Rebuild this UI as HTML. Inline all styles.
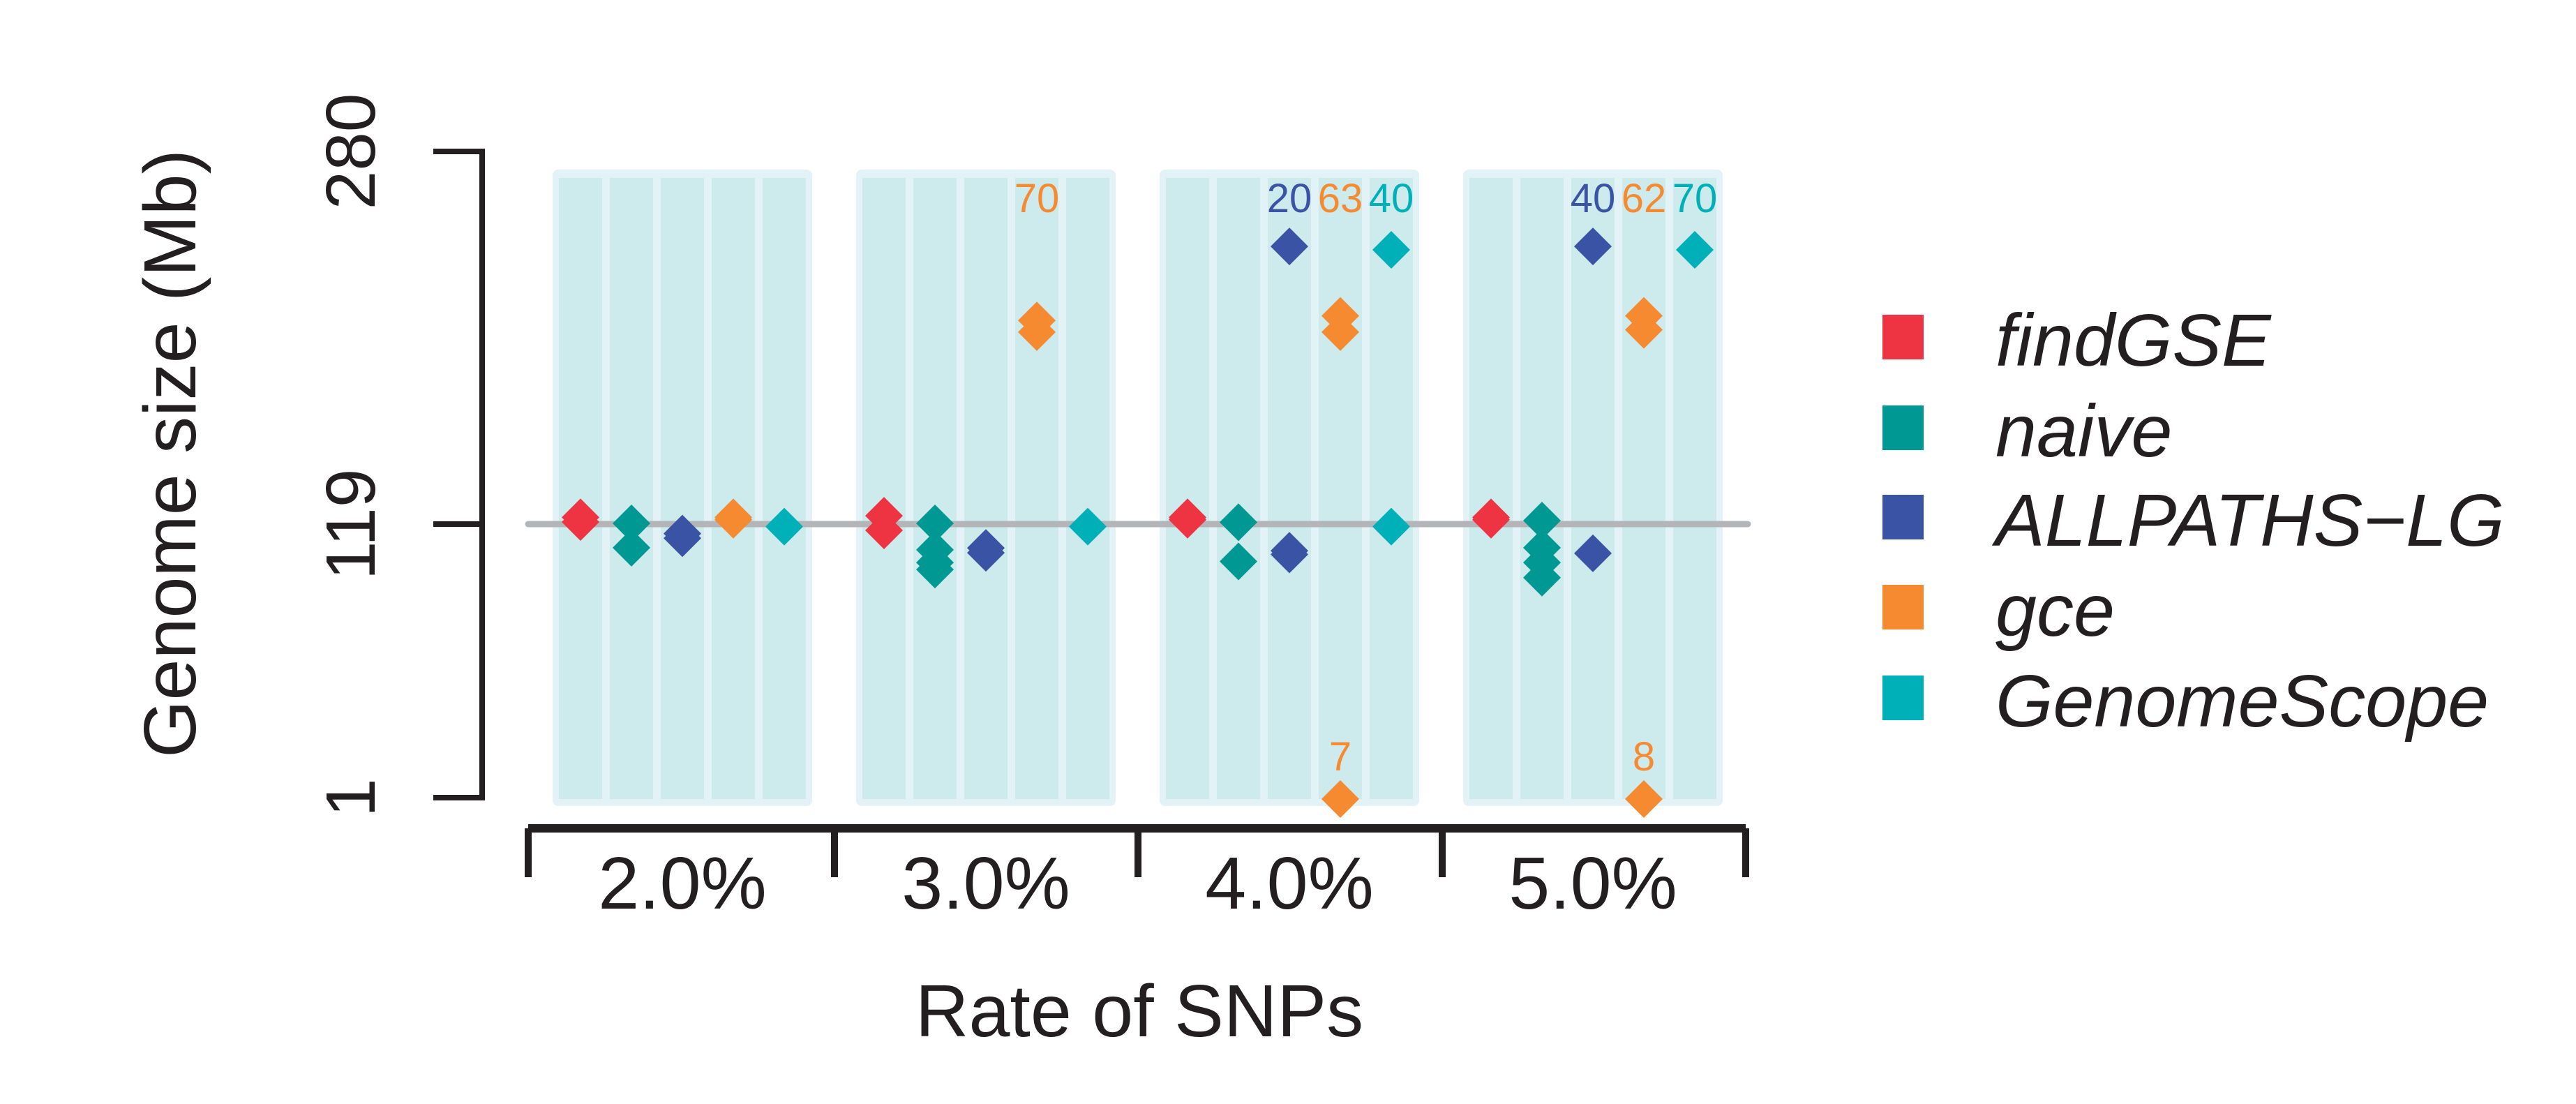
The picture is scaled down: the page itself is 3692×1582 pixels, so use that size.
<!DOCTYPE html>
<html><head><meta charset="utf-8"><style>
html,body{margin:0;padding:0;background:#fff;width:3692px;height:1582px;overflow:hidden}
svg{display:block;font-family:"Liberation Sans",Arial,sans-serif}
</style></head><body>
<svg id="chart" width="3692" height="1582" viewBox="0 0 3692 1582">
<g id="panels"></g>
<line x1="757" y1="751" x2="2505" y2="751" stroke="#b3b5b8" stroke-width="9" stroke-linecap="round"/>
<g id="points"></g>
<g id="labels"></g>
<g id="yaxis" stroke="#231f20" stroke-width="8" fill="none">
<path d="M621 217 H691 V1143 H621 M621 751 H691"/>
</g>
<g id="yticks" font-size="100" fill="#231f20"></g>
<text transform="translate(280,650) rotate(-90)" text-anchor="middle" font-size="106" fill="#231f20">Genome size (Mb)</text>
<g id="xaxis"></g>
<text x="1633" y="1485" text-anchor="middle" font-size="106" fill="#231f20">Rate of SNPs</text>
<g id="legend"></g>
</svg>
<script>
const categories = ["2.0%","3.0%","4.0%","5.0%"];
const methods = ["findGSE","naive","ALLPATHS-LG","gce","GenomeScope"];
const colors = ["#ee3342","#009893","#3a53a4","#f58a30","#00b0b9"];
const findGSE = [[120,122],[122.7,116.4],[121,122],[121,122]];
const naive = [[119.4,108.9],[119.4,108,102.5,99.5],[119.9,103],[120.6,108.9,102.5,96]];
const allpaths = [[113,115],[108.8,106.7],[239,107.6,106],[239,106.5]];
const gce = [[121,122],[207,202],[209,202,0.4],[209,203,0.4]];
const genomescope = [[118],[118],[237.5,118],[237.5]];
const topLabels = [[null,null,null,null,null],[null,null,null,"70",null],[null,null,"20","63","40"],[null,null,"40","62","70"]];
const bottomLabels = [[null,null,null,null,null],[null,null,null,null,null],[null,null,null,"7",null],[null,null,null,"8",null]];
const yTicks = [1,119,280];
const series = [findGSE,naive,allpaths,gce,genomescope];

const NS="http://www.w3.org/2000/svg";
function mk(tag,attrs,parent){const e=document.createElementNS(NS,tag);for(const k in attrs)e.setAttribute(k,attrs[k]);parent.appendChild(e);return e;}
function yScale(v){return 1143-(v-1)*926/279;}
function groupX(g){return 978+g*435;}
function colX(g,m){return groupX(g)+(m-2)*73;}

const panels=document.getElementById('panels');
categories.forEach((c,g)=>{
  const r=mk('rect',{x:groupX(g)-186,y:243,width:372,height:912,rx:8,fill:'#e3f2f7'},panels);
  
  
  methods.forEach((m,i)=>{
    const s=mk('rect',{x:colX(g,i)-31,y:255,width:62,height:890,fill:'#cdeaed'},panels);
    
    
  });
});
const pts=document.getElementById('points');
const H=27;
series.forEach((ser,i)=>{
  ser.forEach((vals,g)=>{
    vals.forEach(v=>{
      const x=colX(g,i),y=yScale(v);
      const p=mk('polygon',{points:`${x},${y-H} ${x+H},${y} ${x},${y+H} ${x-H},${y}`,fill:colors[i]},pts);
      
      
    });
  });
});
const lab=document.getElementById('labels');
categories.forEach((c,g)=>{
  methods.forEach((m,i)=>{
    if(topLabels[g][i]){const t=mk('text',{x:colX(g,i),y:304,'text-anchor':'middle','font-size':58,fill:colors[i]},lab);t.textContent=topLabels[g][i];
      
      }
    if(bottomLabels[g][i]){const t=mk('text',{x:colX(g,i),y:1104,'text-anchor':'middle','font-size':58,fill:colors[i]},lab);t.textContent=bottomLabels[g][i];
      
      }
  });
});
const yt=document.getElementById('yticks');
yTicks.forEach(v=>{
  const t=mk('text',{transform:`translate(537,${yScale(v)}) rotate(-90)`,'text-anchor':'middle'},yt);t.textContent=v;
  
  
});
const xa=document.getElementById('xaxis');
const ticks=[757,1196,1631,2067,2502];
mk('path',{d:`M${ticks[0]} 1187 H${ticks[4]} `+ticks.map(x=>`M${x} 1187 V1257`).join(' '),stroke:'#231f20','stroke-width':10,fill:'none'},xa);
mk('rect',{x:757,y:1181,width:1745,height:12,fill:'#231f20'},xa);
categories.forEach((c,g)=>{
  const t=mk('text',{x:groupX(g),y:1302,'text-anchor':'middle','font-size':106,fill:'#231f20'},xa);t.textContent=c;
  
  
});
const lg=document.getElementById('legend');
const legTops=[451,581,709,838,968];
methods.forEach((m,i)=>{
  const r=mk('rect',{x:2698,y:legTops[i],width:59,height:64,fill:colors[i]},lg);
  
  
  const t=mk('text',{x:2860,y:legTops[i]+73,'font-size':106,'font-style':'italic',fill:'#231f20'},lg);t.textContent=m==='ALLPATHS-LG'?'ALLPATHS\u2212LG':m;
  
  
});
</script>
</body></html>
